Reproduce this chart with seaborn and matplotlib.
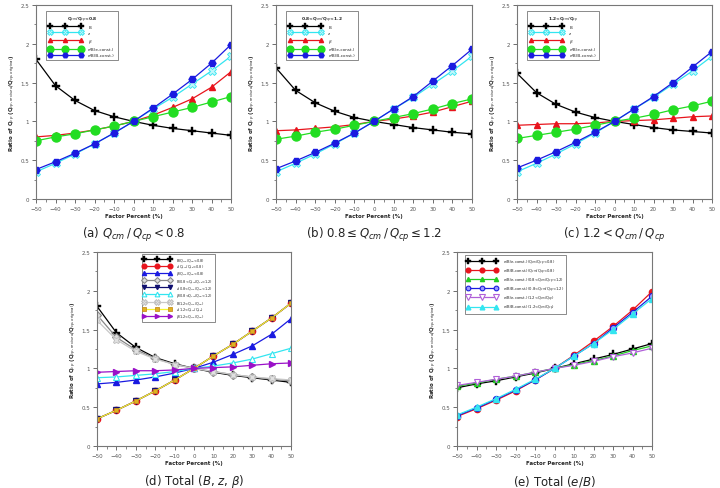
import numpy as np
import pandas as pd
import matplotlib
matplotlib.use("Agg")
import matplotlib.pyplot as plt
import seaborn as sns
from matplotlib.ticker import MultipleLocator, FormatStrFormatter

# ---- data ----
factor = [-50, -40, -30, -20, -10, 0, 10, 20, 30, 40, 50]

z_all = [0.35, 0.46, 0.58, 0.71, 0.85, 1.0, 1.16, 1.31, 1.48, 1.65, 1.84]

B_a = [1.80, 1.46, 1.27, 1.14, 1.06, 1.0, 0.95, 0.91, 0.88, 0.85, 0.82]
beta_a = [0.80, 0.82, 0.85, 0.89, 0.94, 1.0, 1.08, 1.18, 1.29, 1.44, 1.64]
eB_e_a = [0.75, 0.80, 0.84, 0.89, 0.94, 1.0, 1.06, 1.12, 1.18, 1.25, 1.32]
eB_B_a = [0.38, 0.48, 0.59, 0.71, 0.85, 1.0, 1.17, 1.35, 1.54, 1.75, 1.99]

B_b = [1.69, 1.40, 1.24, 1.13, 1.05, 1.0, 0.96, 0.92, 0.89, 0.86, 0.84]
beta_b = [0.88, 0.89, 0.91, 0.93, 0.96, 1.0, 1.03, 1.07, 1.12, 1.19, 1.26]
eB_e_b = [0.77, 0.81, 0.86, 0.90, 0.95, 1.0, 1.05, 1.10, 1.16, 1.23, 1.29]
eB_B_b = [0.39, 0.49, 0.60, 0.72, 0.85, 1.0, 1.16, 1.32, 1.52, 1.72, 1.93]

B_c = [1.62, 1.37, 1.22, 1.12, 1.05, 1.0, 0.96, 0.92, 0.89, 0.87, 0.85]
beta_c = [0.95, 0.96, 0.97, 0.97, 0.98, 1.0, 1.01, 1.02, 1.04, 1.06, 1.07]
eB_e_c = [0.78, 0.82, 0.86, 0.90, 0.95, 1.0, 1.04, 1.09, 1.15, 1.20, 1.26]
eB_B_c = [0.40, 0.50, 0.61, 0.73, 0.86, 1.0, 1.16, 1.32, 1.50, 1.70, 1.90]

Q = r"Q$_{cm}$/Q$_{cp}$"
ranges = [Q + "<0.8", "0.8<" + Q + "<1.2", "1.2<" + Q]
captions = [r"(a) $Q_{cm}\,/\,Q_{cp} < 0.8$",
            r"(b) $0.8 \leq Q_{cm}\,/\,Q_{cp} \leq 1.2$",
            r"(c) $1.2 < Q_{cm}\,/\,Q_{cp}$",
            r"(d) Total ($B$, $z$, $\beta$)",
            r"(e) Total ($e/B$)"]

sns.set_style("white")
plt.rcParams['font.family'] = ['DejaVu Sans']
plt.rcParams['mathtext.fontset'] = 'dejavusans'

fig = plt.figure(figsize=(7.2, 4.89), dpi=100)
W, H = 720, 489


def make_ax(left, top, right, bottom):
    return fig.add_axes([left / W, 1 - bottom / H, (right - left) / W, (bottom - top) / H])


def style_ax(ax, caption):
    ax.set_xlim(-50, 50)
    ax.set_ylim(0, 2.5)
    ax.xaxis.set_major_locator(MultipleLocator(10))
    ax.xaxis.set_minor_locator(MultipleLocator(5))
    ax.yaxis.set_major_locator(MultipleLocator(0.5))
    ax.yaxis.set_minor_locator(MultipleLocator(0.25))
    ax.yaxis.set_major_formatter(FormatStrFormatter('%g'))
    ax.tick_params(which='major', direction='out', length=3, width=0.6,
                   labelsize=4, colors='#555555', pad=2, bottom=True, left=True)
    ax.tick_params(which='minor', direction='out', length=1.8, width=0.5,
                   colors='#555555', bottom=True, left=True)
    for s in ax.spines.values():
        s.set_color('#777777')
        s.set_linewidth(0.8)
    ax.set_xlabel("Factor Percent (%)", fontsize=4, fontweight='bold', labelpad=1.5)
    ax.set_ylabel(r"Ratio of Q$_{cp}$ (Q$_{cp,revised}$/Q$_{cp,original}$)",
                  fontsize=4, fontweight='bold', labelpad=2)
    ax.text(0.5, -0.18, caption, transform=ax.transAxes, ha='center', va='center',
            fontsize=8.5, color='#222222')


def draw(ax, y, color, marker, label, ms=5, mfc=None, mec=None, mew=1.0, lw=0.9):
    sns.lineplot(x=factor, y=y, ax=ax, color=color, marker=marker, markersize=ms,
                 markerfacecolor=color if mfc is None else mfc,
                 markeredgecolor=color if mec is None else mec,
                 markeredgewidth=mew, linewidth=lw, label=label, legend=False)


def add_legend(ax, title, x, y, fs=3.0, ls=0.75, bp=0.7):
    leg = ax.legend(loc='upper left', bbox_to_anchor=(x, y), fontsize=fs,
                    title=title, title_fontsize=fs + 0.2, numpoints=3, handlelength=8,
                    markerscale=0.75, frameon=True, fancybox=False, borderpad=bp,
                    labelspacing=ls, handletextpad=1.5, borderaxespad=0)
    leg.get_frame().set_edgecolor('#555555')
    leg.get_frame().set_linewidth(0.6)
    if title:
        leg.get_title().set_fontweight('bold')
    return leg


# ---- top row ----
top_boxes = [(36, 6, 231, 200), (276, 6, 472, 200), (517, 6, 712, 200)]
Bs = [B_a, B_b, B_c]
betas = [beta_a, beta_b, beta_c]
eBe = [eB_e_a, eB_e_b, eB_e_c]
eBB = [eB_B_a, eB_B_b, eB_B_c]

for i in range(3):
    ax = make_ax(*top_boxes[i])
    draw(ax, Bs[i], 'black', 'P', 'B', ms=5.5, mfc='black', mew=0.3)
    draw(ax, z_all, '#33e5f0', 'X', 'z', ms=5.5, mfc='#bff7fb', mec='#33e5f0', mew=0.6)
    draw(ax, betas[i], '#e8141c', '^', r'$\beta$', ms=4)
    draw(ax, eBe[i], '#22dd22', 'o', 'e/B(e-const.)', ms=6.5)
    draw(ax, eBB[i], '#1a1ae0', 'H', 'e/B(B-const.)', ms=5)
    add_legend(ax, ranges[i], 0.05, 0.97, fs=3.0, ls=0.5)
    style_ax(ax, captions[i])

# ---- (d) ----
ax = make_ax(97, 253, 291, 447)
draw(ax, B_a, 'black', 'P', r'B(' + ranges[0] + ')', ms=5.5, mew=0.3)
draw(ax, z_all, '#e8141c', 'o', r'z(' + ranges[0] + ')', ms=4.5)
draw(ax, beta_a, '#1a1ae0', '^', r'$\beta$(' + ranges[0] + ')', ms=4)
draw(ax, B_b, '#888888', 'D', r'B(' + ranges[1] + ')', ms=4, mfc='#dddddd', mec='#888888', mew=0.8)
draw(ax, z_all, '#101070', 'v', r'z(' + ranges[1] + ')', ms=4)
draw(ax, beta_b, '#33e5f0', '^', r'$\beta$(' + ranges[1] + ')', ms=4.5, mfc='white', mew=0.8)
draw(ax, B_c, '#c8c8c8', 'X', r'B(' + ranges[2] + ')', ms=5, mfc='#e0e0e0', mec='#bbbbbb', mew=0.6)
draw(ax, z_all, '#f5f530', 's', r'z(' + ranges[2] + ')', ms=3.5, mfc='#e0b020', mec='#c89020', mew=0.6)
draw(ax, beta_c, '#9a10c8', '>', r'$\beta$(' + ranges[2] + ')', ms=4)
add_legend(ax, None, 0.23, 0.99, fs=2.5, ls=0.0, bp=0.5)
style_ax(ax, captions[3])

# ---- (e) ----
ax = make_ax(457, 253, 652, 447)
draw(ax, eB_e_a, 'black', 'P', 'e/B(e-const.)(' + ranges[0] + ')', ms=5.5, mew=0.3)
draw(ax, eB_B_a, '#e8141c', 'o', 'e/B(B-const.)(' + ranges[0] + ')', ms=4.5)
draw(ax, eB_e_b, '#22cc22', '^', 'e/B(e-const.)(' + ranges[1] + ')', ms=4)
draw(ax, eB_B_b, '#1a1ae0', 'o', 'e/B(B-const.)(' + ranges[1] + ')', ms=4.5, mfc='#9999ff', mew=0.8)
draw(ax, eB_e_c, '#b060d8', 'v', 'e/B(e-const.)(' + ranges[2] + ')', ms=5, mfc='white', mew=0.8)
draw(ax, eB_B_c, '#33e5f0', '^', 'e/B(B-const.)(' + ranges[2] + ')', ms=4.5)
add_legend(ax, None, 0.04, 0.985, fs=2.7, ls=0.05, bp=0.6)
style_ax(ax, captions[4])

fig.savefig("out.png", dpi=100)
